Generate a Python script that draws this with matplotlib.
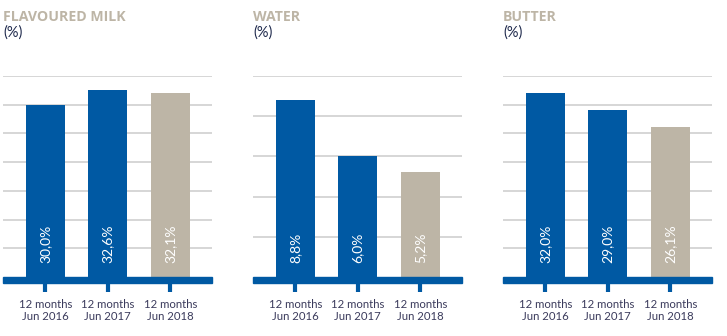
import matplotlib.pyplot as plt
from matplotlib.patches import Rectangle

plt.rcParams['font.family'] = ['Lato', 'DejaVu Sans']

periods = ['12 months\nJun 2016', '12 months\nJun 2017', '12 months\nJun 2018']
titles = ['FLAVOURED MILK', 'WATER', 'BUTTER']
flavoured_milk = [30.0, 32.6, 32.1]
water = [8.8, 6.0, 5.2]
butter = [32.0, 29.0, 26.1]
y_max = [35, 10, 35]
y_step = [5, 2, 5]

BLUE = '#0059a3'
TAUPE = '#bdb5a6'
TEXT = '#3b3b5c'

fig = plt.figure(figsize=(7.27, 3.36), dpi=100)
W, H = 727, 336

lefts = [3, 253, 503]
series = [flavoured_milk, water, butter]

for left, title, vals, top, step in zip(lefts, titles, series, y_max, y_step):
    ax = fig.add_axes([left / W, (H - 277) / H, 209 / W, 201 / H])
    x = range(len(vals))
    colors = [BLUE, BLUE, TAUPE]
    ax.bar(x, vals, width=0.62, color=colors, zorder=3)
    ax.set_xlim(-0.68, 2.67)
    ax.set_ylim(0, top)
    ax.set_yticks(range(step, top + 1, step))
    ax.yaxis.grid(True, color='#cccccc', linewidth=1.1, zorder=0)
    ax.tick_params(axis='y', length=0, labelleft=False)
    ax.set_xticks(list(x))
    ax.set_xticklabels(periods, fontsize=8.2, color=TEXT, linespacing=1.15)
    ax.tick_params(axis='x', length=11, width=3, color=BLUE, pad=4.5)
    for s in ax.spines.values():
        s.set_visible(False)

    # thick base bar under the columns
    ax.add_patch(Rectangle((0, -6 / 201), 1, 6 / 201, transform=ax.transAxes,
                           color=BLUE, clip_on=False, zorder=4))

    for xi, v in zip(x, vals):
        ax.annotate(f'{v:.1f}%'.replace('.', ','), (xi, 0), xytext=(0, 10),
                    textcoords='offset points', rotation=90, ha='center',
                    va='bottom', color='white', fontsize=10, zorder=5)

    fig.text(left / W, 1 - 10 / H, title, fontsize=10.2, fontweight='bold',
             color=TAUPE, va='top', ha='left', family='Open Sans')
    fig.text(left / W, 1 - 25 / H, '(%)', fontsize=10.5, color='#1f2a4d',
             va='top', ha='left')

fig.savefig('out.png', dpi=100)
